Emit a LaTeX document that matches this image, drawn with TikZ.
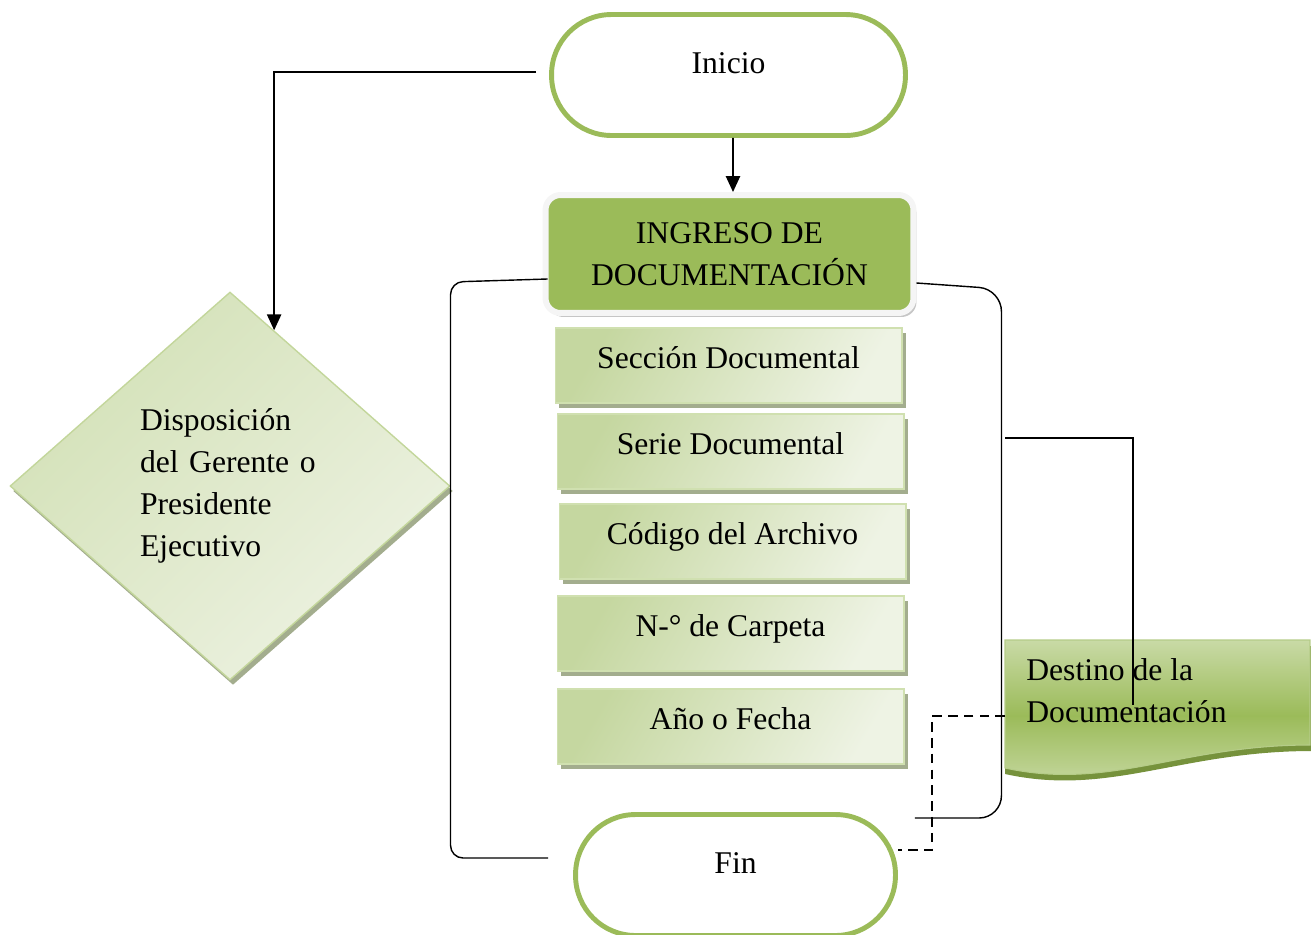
\documentclass[tikz,border=0pt]{standalone}
\usepackage{fontspec}
\setmainfont{Liberation Serif}
\usetikzlibrary{positioning,shapes.geometric,shadows,calc,arrows.meta}

\definecolor{termgreen}{HTML}{9BBB59}
\definecolor{fieldA}{HTML}{C5D7A0}
\definecolor{fieldB}{HTML}{EEF3E4}
\definecolor{fieldedge}{HTML}{D0E0B0}
\definecolor{fieldshadow}{HTML}{A3AD8E}
\definecolor{diaA}{HTML}{D3E1B7}
\definecolor{diaB}{HTML}{EDF2E2}
\definecolor{diaedge}{HTML}{C3D69B}
\definecolor{destlight}{HTML}{C9DAA6}
\definecolor{destshadow}{HTML}{76923C}
\definecolor{destedge}{HTML}{B5CC88}

\begin{document}
\begin{tikzpicture}[x=0.02cm, y=-0.02cm,
    font=\fontsize{18}{23.8}\selectfont,
    term/.style={draw=termgreen, line width=2.8pt, fill=white, rounded corners=1.2cm,
        minimum height=2.42cm, text height=0.4cm, text depth=0.46cm},
    ingresobox/.style={fill=termgreen, draw=gray!8, line width=0.12cm, rounded corners=0.3cm,
        minimum width=7.36cm, minimum height=2.36cm, align=center,
        drop shadow={shadow xshift=0.06cm, shadow yshift=-0.08cm, opacity=1, fill=gray!45}},
    field/.style={draw=fieldedge, line width=0.6pt, left color=fieldA, right color=fieldB,
        shading angle=60, minimum width=6.94cm, minimum height=1.5cm,
        text height=0.4cm, text depth=0.28cm,
        drop shadow={shadow xshift=0.08cm, shadow yshift=-0.1cm, opacity=1, fill=fieldshadow}},
    dia/.style={shape=diamond, draw=diaedge, line width=0.8pt, left color=diaA, right color=diaB,
        shading angle=45, minimum width=8.8cm, minimum height=7.76cm, inner sep=0pt,
        text width=3.6cm, align=left,
        drop shadow={shadow xshift=0.06cm, shadow yshift=-0.1cm, opacity=1, fill=fieldshadow}},
    arr/.style={-{Triangle[width=8pt,length=9pt]}, line width=1.1pt},
    link/.style={line width=0.8pt},
    dashlink/.style={line width=0.8pt, dash pattern=on 5.5pt off 3.5pt}
]
\useasboundingbox (0,0) rectangle (1311,934);

% Start and end
\node[term, minimum width=7.08cm] (inicio) at (728.5,75) {Inicio};
\node[term, minimum width=6.4cm] (fin) at (735.5,875) {Fin};

% Main box and its fields
\node[ingresobox] (ingreso) at (729.5,254) {INGRESO DE\\DOCUMENTACIÓN};
\node[field] (seccion) at (728.5,365.5) {Sección Documental};
\node[field] (serie) at (730.5,451.5) {Serie Documental};
\node[field] (codigo) at (732.5,541.5) {Código del Archivo};
\node[field] (carpeta) at (730.5,633.5) {N-° de Carpeta};
\node[field] (fecha) at (730.5,726.5) {Año o Fecha};

% Decision
\node[dia] (disp) at (230,486) {Disposición\\del Gerente o\\Presidente\\Ejecutivo};

% Document shape
\fill[destshadow] (1005,646) -- (1312,646) -- (1312,751)
    .. controls (1180,751) and (1110,797) .. (1005,774) -- cycle;
\shade[top color=destlight, bottom color=destlight, middle color=termgreen, draw=destedge, line width=0.6pt]
    (1005,640) -- (1310,640) -- (1310,745)
    .. controls (1180,745) and (1110,791) .. (1005,768) -- cycle;
\node[anchor=west, align=left, inner sep=0pt] (destino) at (1026,691) {Destino de la\\Documentación};

% Connectors
\draw[arr] ([xshift=0.09cm]inicio.south) -- ([xshift=0.07cm]ingreso.north);
\draw[arr] ([xshift=-0.26cm,yshift=0.06cm]inicio.west) -| ($(disp.north)!0.2!(disp.east)$);

\draw[link, rounded corners=0.25cm] ([xshift=0.1cm,yshift=-0.5cm]ingreso.west)
    -- ++(-97,3) |- ([xshift=-0.5cm,yshift=0.34cm]fin.west);
\draw[link, rounded corners=0.45cm] ([yshift=-0.58cm]ingreso.east)
    -- ++(85,6) |- ([xshift=0.34cm,yshift=1.14cm]fin.east);

\coordinate (tapA) at (1005,438);
\coordinate (tapB) at (1133,705);
\draw[link] (tapA) -| (tapB);

\coordinate (destW) at (1005,716);
\draw[dashlink] (destW) -- ++(-73,0) |- ([yshift=0.5cm]fin.east);

\end{tikzpicture}
\end{document}
